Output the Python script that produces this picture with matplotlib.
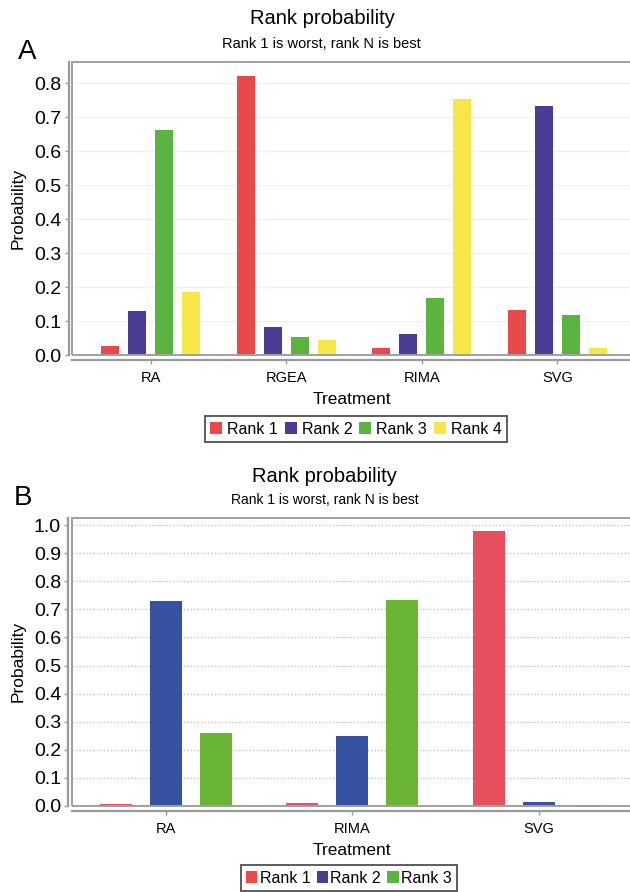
import numpy as np
import matplotlib
matplotlib.use("Agg")
import matplotlib.pyplot as plt
from matplotlib.patches import Rectangle, Patch

plt.rcParams['font.family'] = ['Liberation Sans', 'DejaVu Sans']

# panel A data
treat_a = ["RA", "RGEA", "RIMA", "SVG"]
ranks_a = ["Rank 1", "Rank 2", "Rank 3", "Rank 4"]
rank1_a = [0.026, 0.822, 0.022, 0.131]
rank2_a = [0.128, 0.081, 0.061, 0.732]
rank3_a = [0.663, 0.053, 0.168, 0.118]
rank4_a = [0.186, 0.044, 0.753, 0.021]
colors_a = ["#E8494B", "#4B3D94", "#5BB440", "#F8E547"]

# panel B data
treat_b = ["RA", "RIMA", "SVG"]
ranks_b = ["Rank 1", "Rank 2", "Rank 3"]
rank1_b = [0.006, 0.012, 0.980]
rank2_b = [0.731, 0.248, 0.016]
rank3_b = [0.259, 0.734, 0.003]
colors_b = ["#E6505E", "#3551A0", "#6BB536"]
legend_colors_b = ["#E94A4A", "#4B3D94", "#5BB440"]

W, H = 630, 892
fig = plt.figure(figsize=(W / 100, H / 100), dpi=100)


def px_axes(left, top, right, bottom):
    return fig.add_axes([left / W, 1 - bottom / H, (right - left) / W, (bottom - top) / H])


def style(ax, yticks, ylim, grid_style):
    ax.set_ylim(*ylim)
    ax.set_yticks(yticks)
    ax.set_yticklabels(["%.1f" % v for v in yticks])
    for s in ["top", "right"]:
        ax.spines[s].set_visible(False)
    ax.spines["left"].set_position(("outward", 2.5))
    ax.spines["bottom"].set_position(("outward", 3.5))
    for s in ["left", "bottom"]:
        ax.spines[s].set_color("#9a9a9a")
        ax.spines[s].set_linewidth(1.6)
    ax.tick_params(axis="y", length=3, width=1, color="#9a9a9a", pad=2, labelsize=14)
    ax.tick_params(axis="x", length=3, width=1, color="#9a9a9a", pad=5, labelsize=10.5)
    # inner plot frame
    ax.add_patch(Rectangle((0, 0), 1.02, 1, transform=ax.transAxes, fill=False,
                           edgecolor="#a0a0a0", linewidth=1.4, clip_on=False, zorder=5))
    if grid_style == "dotted":
        ax.yaxis.grid(True, color="#c4c4c4", linestyle=(0, (1, 1.5)), linewidth=1)
    else:
        ax.yaxis.grid(True, color="#f0f0f0", linestyle="-", linewidth=1)
    ax.set_axisbelow(True)
    ax.set_xlabel("Treatment", fontsize=12.5, labelpad=5)
    ax.set_ylabel("Probability", fontsize=12.5)
    ax.yaxis.set_label_coords(-0.082, 0.5)


# ---- panel A ----
axa = px_axes(72, 62, 632, 355)
vals_a = [rank1_a, rank2_a, rank3_a, rank4_a]
xa = np.arange(len(treat_a))
for i, (v, c) in enumerate(zip(vals_a, colors_a)):
    axa.bar(xa + (i - 1.5) * 0.199, v, width=0.133, color=c, zorder=3)
axa.set_xlim(-0.58, 3.55)
axa.set_xticks(xa)
axa.set_xticklabels(treat_a)
style(axa, np.arange(0, 0.81, 0.1), (0, 0.862), "solid")

fig.text(0.512, 1 - 19 / H, "Rank probability", ha="center", va="center", fontsize=14.5)
fig.text(0.51, 1 - 44 / H, "Rank 1 is worst, rank N is best", ha="center", va="center", fontsize=10.5)
fig.text(27 / W, 1 - 52 / H, "A", ha="center", va="center", fontsize=20)

handles_a = [Patch(facecolor=c, label=r) for r, c in zip(ranks_a, colors_a)]
leg_a = fig.legend(handles=handles_a, loc="center", bbox_to_anchor=(356 / W, 1 - 429 / H),
                   ncol=4, fontsize=11.5, frameon=True, fancybox=False, handlelength=0.75,
                   handleheight=0.8, handletextpad=0.3, columnspacing=0.45, borderpad=0.35)
leg_a.get_frame().set_edgecolor("#333333")
leg_a.get_frame().set_linewidth(1.4)

# ---- panel B ----
axb = px_axes(71.5, 517.5, 632, 806)
vals_b = [rank1_b, rank2_b, rank3_b]
xb = np.arange(len(treat_b))
for i, (v, c) in enumerate(zip(vals_b, colors_b)):
    axb.bar(xb + (i - 1) * 0.268, v, width=0.171, color=c, zorder=3)
axb.set_xlim(-0.505, 2.5)
axb.set_xticks(xb)
axb.set_xticklabels(treat_b)
style(axb, np.arange(0, 1.01, 0.1), (0, 1.027), "dotted")

fig.text(0.515, 1 - 476 / H, "Rank probability", ha="center", va="center", fontsize=14.5)
fig.text(0.515, 1 - 500 / H, "Rank 1 is worst, rank N is best", ha="center", va="center", fontsize=10)
fig.text(23 / W, 1 - 498 / H, "B", ha="center", va="center", fontsize=20)

handles_b = [Patch(facecolor=c, label=r) for r, c in zip(ranks_b, legend_colors_b)]
leg_b = fig.legend(handles=handles_b, loc="upper center", bbox_to_anchor=(349 / W, 1 - 865 / H),
                   ncol=3, fontsize=11.5, frameon=True, fancybox=False, handlelength=0.7,
                   handleheight=0.8, handletextpad=0.15, columnspacing=0.4, borderpad=0.35,
                   borderaxespad=0)
leg_b.get_frame().set_edgecolor("#333333")
leg_b.get_frame().set_linewidth(1.4)

fig.savefig("out.png", dpi=100)
